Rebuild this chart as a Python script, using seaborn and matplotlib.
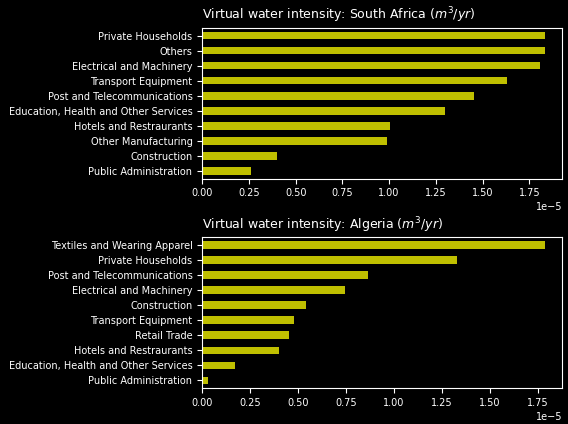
import pandas as pd
import seaborn as sns
import matplotlib.pyplot as plt

plt.style.use('dark_background')

za_sectors = ['Private Households', 'Others', 'Electrical and Machinery', 'Transport Equipment',
              'Post and Telecommunications', 'Education, Health and Other Services',
              'Hotels and Restraurants', 'Other Manufacturing', 'Construction', 'Public Administration']
za_values = [1.835e-5, 1.835e-5, 1.81e-5, 1.63e-5, 1.455e-5, 1.30e-5, 1.004e-5, 0.99e-5, 0.40e-5, 0.26e-5]

dz_sectors = ['Textiles and Wearing Apparel', 'Private Households', 'Post and Telecommunications',
              'Electrical and Machinery', 'Construction', 'Transport Equipment', 'Retail Trade',
              'Hotels and Restraurants', 'Education, Health and Other Services', 'Public Administration']
dz_values = [1.79e-5, 1.33e-5, 0.865e-5, 0.745e-5, 0.54e-5, 0.48e-5, 0.455e-5, 0.40e-5, 0.17e-5, 0.03e-5]

fig, axes = plt.subplots(2, 1, figsize=(5.68, 4.24), dpi=100)

panels = [(za_sectors, za_values, 'South Africa'), (dz_sectors, dz_values, 'Algeria')]
for ax, (sectors, values, country) in zip(axes, panels):
    df = pd.DataFrame({'sector': sectors, 'value': values})
    sns.barplot(data=df, x='value', y='sector', color='#bfbf00', saturation=1,
                width=0.5, orient='h', ax=ax)
    ax.set_title(f'Virtual water intensity: {country} ($m^3/yr$)', loc='left', fontsize=9)
    ax.set_xlabel('')
    ax.set_ylabel('')
    ax.tick_params(labelsize=7)
    ax.set_ylim(9.5, -0.5)
    ax.ticklabel_format(axis='x', style='sci', scilimits=(0, 0))
    ax.xaxis.get_offset_text().set_fontsize(7)

fig.subplots_adjust(left=0.356, right=0.99, top=0.934, bottom=0.085, hspace=0.39)
fig.savefig('out.png', dpi=100)
